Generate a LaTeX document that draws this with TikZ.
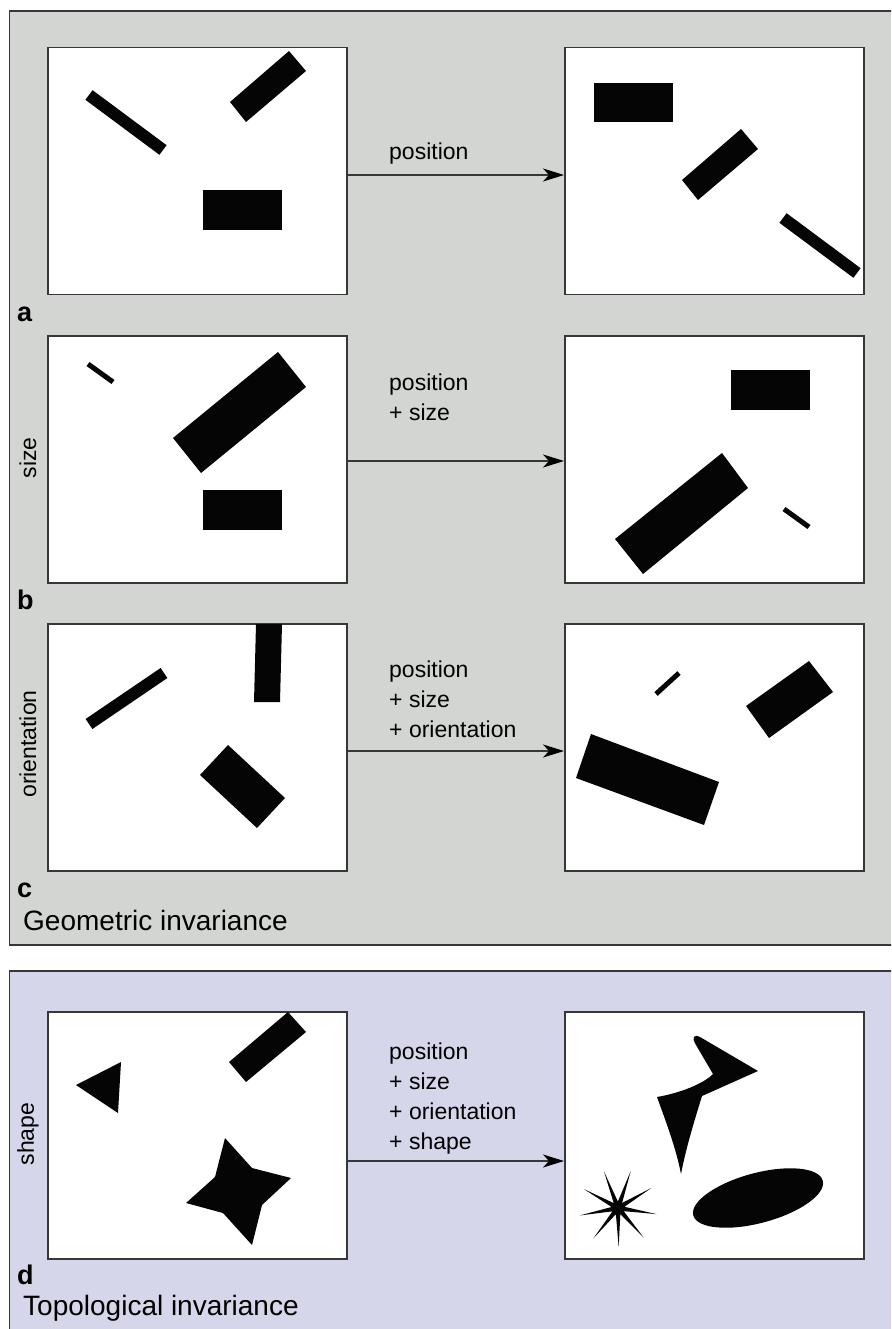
\documentclass[tikz,border=0pt]{standalone}
\usepackage{fontspec}
\setmainfont{Liberation Sans}
\usetikzlibrary{arrows.meta}
\definecolor{geomgray}{RGB}{211,213,211}
\definecolor{topolilac}{RGB}{213,214,234}
\definecolor{edgegray}{RGB}{55,55,55}

\begin{document}
\begin{tikzpicture}[x=1pt,y=-1pt,
  panelframe/.style={draw=edgegray, line width=1.5pt},
  scenebox/.style={draw=edgegray, line width=1.5pt, fill=white, inner sep=0pt,
    minimum width=299pt, minimum height=247pt, anchor=north west},
  blob/.style={fill=black!98},
  flow/.style={draw=edgegray, line width=1.2pt,
    -{Stealth[length=21pt,width=13pt,inset=6pt,color=black,fill=black]}},
  steplabel/.style={anchor=base west, inner sep=0pt,
    font=\fontsize{23}{28}\selectfont, text=black},
  tag/.style={anchor=base west, inner sep=0pt,
    font=\fontsize{27}{30}\selectfont\bfseries},
  heading/.style={anchor=base west, inner sep=0pt,
    font=\fontsize{28}{32}\selectfont, text=black},
  sidelabel/.style={rotate=90, inner sep=0pt,
    font=\fontsize{23}{28}\selectfont, text=black},
]
\useasboundingbox (0,0) rectangle (891,1329);
\clip (0,0) rectangle (891,1329);

% ---------- background panels ----------
\fill[geomgray] (9.5,11) rectangle (905,945);
\draw[panelframe] (905,11) -- (9.5,11) -- (9.5,945) -- (905,945);
\fill[topolilac] (9.5,971) rectangle (905,1340);
\draw[panelframe] (905,971) -- (9.5,971) -- (9.5,1340);

% ---------- scene boxes ----------
\node[scenebox] (aL) at (47,47) {};
\node[scenebox] (aR) at (564,47) {};
\node[scenebox] (bL) at (47,335) {};
\node[scenebox] (bR) at (564,335) {};
\node[scenebox] (cL) at (47,623) {};
\node[scenebox] (cR) at (564,623) {};
\node[scenebox] (dL) at (47,1011) {};
\node[scenebox] (dR) at (564,1011) {};

% ---------- arrows between scenes ----------
\coordinate (ya) at (0,175);
\coordinate (yb) at (0,461);
\coordinate (yc) at (0,751);
\coordinate (yd) at (0,1161);
\draw[flow] (aL.east |- ya) -- (aR.west |- ya);
\draw[flow] (bL.east |- yb) -- (bR.west |- yb);
\draw[flow] (cL.east |- yc) -- (cR.west |- yc);
\draw[flow] (dL.east |- yd) -- (dR.west |- yd);

% ---------- transformation labels ----------
\node[steplabel] (ta1) at (389,160) {position};
\node[steplabel] (tb1) at (389,390) {position};
\node[steplabel] (tb2) at (389,420) {+ size};
\node[steplabel] (tc1) at (389,677) {position};
\node[steplabel] (tc2) at (389,707) {+ size};
\node[steplabel] (tc3) at (389,737) {+ orientation};
\node[steplabel] (td1) at (389,1059) {position};
\node[steplabel] (td2) at (389,1089) {+ size};
\node[steplabel] (td3) at (389,1119) {+ orientation};
\node[steplabel] (td4) at (389,1149) {+ shape};

% ---------- panel tags and headings ----------
\node[tag] (tagA) at (17,321) {a};
\node[tag] (tagB) at (17,609) {b};
\node[tag] (tagC) at (17,897) {c};
\node[tag] (tagD) at (17,1284) {d};
\node[heading] (geo) at (23,930) {Geometric invariance};
\node[heading] (topo) at (23,1315) {Topological invariance};
\node[sidelabel] (sz) at (28,458) {size};
\node[sidelabel] (orn) at (28,744) {orientation};
\node[sidelabel] (shp) at (28,1134) {shape};

% ---------- row a: position ----------
\fill[blob] (92.6,90.2) -- (166.6,145.2) -- (159.4,154.8) -- (85.4,99.8) -- cycle;
\fill[blob] (289,51) -- (306,71) -- (246,122) -- (230,102) -- cycle;
\fill[blob] (203,190) rectangle (282,230);
\fill[blob] (594,83) rectangle (673,122);
\fill[blob] (741,129) -- (758,149) -- (698,200) -- (682,180) -- cycle;
\fill[blob] (786.6,213.2) -- (860.6,268.2) -- (853.4,277.8) -- (779.4,222.8) -- cycle;

% ---------- row b: position + size ----------
\fill[blob] (89.5,362) -- (114.5,380) -- (111.5,384) -- (86.5,366) -- cycle;
\fill[blob] (278,352) -- (306,387) -- (201,473) -- (173,438) -- cycle;
\fill[blob] (203,490) rectangle (282,530);
\fill[blob] (731,370) rectangle (810,410);
\fill[blob] (722,453) -- (748,488) -- (643,574) -- (615,539) -- cycle;
\fill[blob] (785.5,507) -- (810.5,525) -- (807.5,529) -- (782.5,511) -- cycle;

% ---------- row c: position + size + orientation ----------
\fill[blob] (85.6,719) -- (160.6,668) -- (167.4,678) -- (92.4,729) -- cycle;
\fill[blob] (256,624) -- (282,624) -- (280,702) -- (254,702) -- cycle;
\fill[blob] (228,745) -- (285,798) -- (257,828) -- (200,775) -- cycle;
\fill[blob] (654.3,692.2) -- (677.3,671.2) -- (680.7,674.8) -- (657.7,695.8) -- cycle;
\fill[blob] (809,661) -- (833,692) -- (769,738) -- (746,706) -- cycle;
\fill[blob] (591,734) -- (719,782) -- (704,825) -- (576,778) -- cycle;

% ---------- row d: position + size + orientation + shape ----------
\fill[blob] (76,1085) -- (121,1062) -- (118,1113) -- cycle;
\fill[blob] (288,1012) -- (306,1032) -- (246,1082) -- (229,1062) -- cycle;
\fill[blob] (225,1138) -- (252,1168) -- (291,1178) -- (262,1205)
  -- (252,1245) -- (223,1213) -- (186,1203) -- (215,1177) -- cycle;

% bent spike
\fill[blob] (657,1097) .. controls (680,1093) and (703,1084) .. (713,1074)
  -- (696,1045) .. controls (691,1037) and (694,1034) .. (700,1037)
  -- (758,1071) -- (702,1096)
  .. controls (694,1122) and (686,1148) .. (681,1174)
  .. controls (676,1148) and (666,1122) .. (657,1097) -- cycle;
% tilted ellipse
\fill[blob, rotate around={15:(758,1198)}] (758,1198) ellipse [x radius=67pt, y radius=25pt];
% nine-ray star
\begin{scope}[shift={(618,1208)}]
  \fill[blob] (71:39pt) \foreach \k in {1,...,9} {
    -- ({71-40*\k+20}:6.5pt) -- ({71-40*\k}:39pt) } -- cycle;
\end{scope}
\end{tikzpicture}
\end{document}
